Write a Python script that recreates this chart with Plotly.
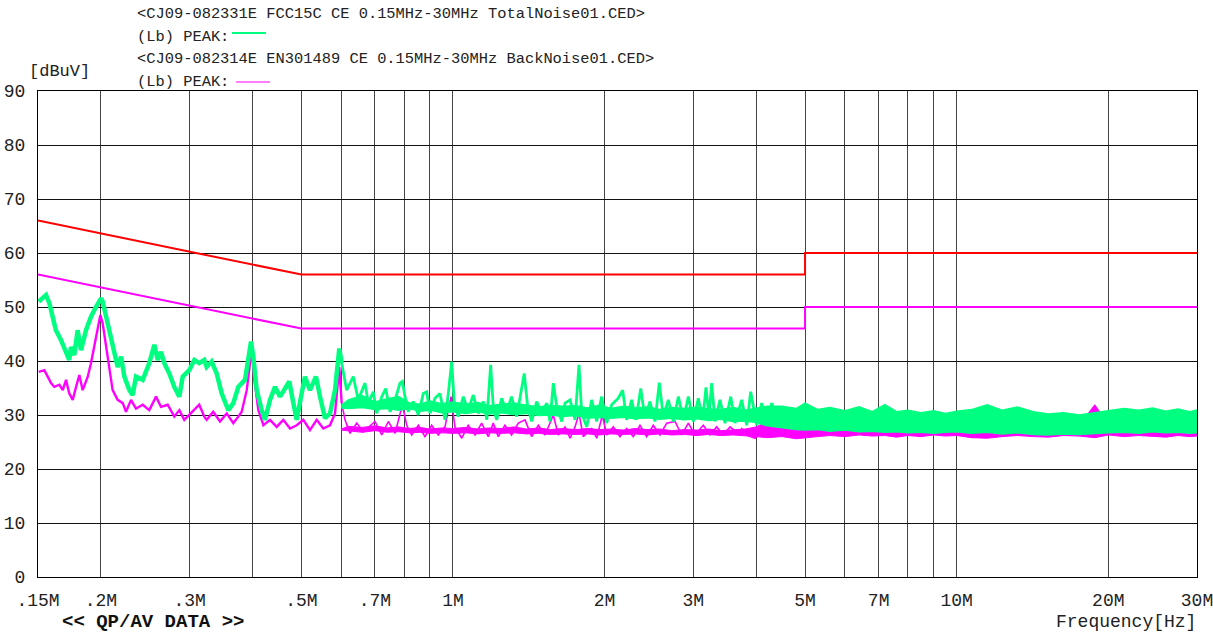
import plotly.graph_objects as go
import math

# ---------------- data ----------------
# limit lines (MHz, dBuV)
lim_qp_f = [0.15, 0.5, 5.0, 5.0, 30.0]
lim_qp_v = [66.0, 56.0, 56.0, 60.0, 60.0]
lim_av_f = [0.15, 0.5, 5.0, 5.0, 30.0]
lim_av_v = [56.0, 46.0, 46.0, 50.0, 50.0]

# Total noise (green) peak trace
tot_f = [0.1505, 0.1556, 0.158, 0.1605, 0.1628, 0.1666, 0.173, 0.1744, 0.1771, 0.1798,
         0.1826, 0.1868, 0.1911, 0.1955, 0.2001, 0.2016, 0.2047, 0.2078, 0.211, 0.2159,
         0.2193, 0.2226, 0.2278, 0.2312, 0.2348, 0.2421, 0.2495, 0.2553, 0.2593, 0.2632,
         0.2672, 0.2734, 0.2797, 0.2862, 0.2907, 0.2996, 0.3065, 0.3135, 0.3208, 0.3243,
         0.3318, 0.3395, 0.3473, 0.358, 0.3663, 0.3748, 0.3864, 0.3923, 0.3972, 0.4014,
         0.4077, 0.4171, 0.4234, 0.4332, 0.4432, 0.4535, 0.464, 0.4732, 0.482, 0.4895,
         0.5007, 0.5084, 0.5201, 0.5346, 0.5445, 0.557, 0.5699, 0.5831, 0.5947, 0.6012,
         0.6151, 0.6339, 0.6486, 0.6688, 0.679, 0.6947, 0.7056, 0.722, 0.7353, 0.7499,
         0.7673, 0.785, 0.7934, 0.803, 0.8153, 0.8341, 0.8535, 0.873, 0.8867, 0.9002,
         0.9209, 0.9423, 0.9641, 0.9788, 0.994, 1.006, 1.024, 1.048, 1.072, 1.097,
         1.123, 1.149, 1.167, 1.188, 1.202, 1.221, 1.249, 1.278, 1.307, 1.338,
         1.365, 1.385, 1.407, 1.433, 1.466, 1.5, 1.535, 1.558, 1.582, 1.607,
         1.644, 1.669, 1.708, 1.747, 1.779, 1.801, 1.843, 1.885, 1.929, 1.973,
         2.019, 2.066, 2.129, 2.172, 2.212, 2.263, 2.308, 2.359, 2.405, 2.461,
         2.518, 2.568, 2.615, 2.676, 2.738, 2.802, 2.866, 2.933, 3.001, 3.069,
         3.131, 3.179, 3.223, 3.263, 3.313, 3.389, 3.468, 3.56, 3.63, 3.743,
         3.83, 3.9, 4.009, 4.102, 4.197, 4.294, 4.426]
tot_v = [51.0, 52.2, 50.7, 48.2, 45.7, 43.9, 40.2, 42.6, 41.1, 45.7,
         42.0, 45.7, 48.2, 50.0, 51.6, 51.0, 48.2, 45.1, 42.6, 38.9,
         40.8, 37.1, 34.6, 33.7, 37.1, 36.5, 39.6, 43.0, 40.2, 41.7,
         39.6, 37.7, 35.2, 33.4, 37.1, 38.3, 40.2, 39.6, 40.2, 38.9,
         39.9, 37.7, 34.0, 30.9, 32.2, 35.2, 36.5, 40.2, 43.6, 40.8,
         34.6, 30.9, 29.1, 32.8, 35.2, 33.4, 34.9, 36.2, 32.2, 29.1,
         34.0, 37.1, 34.6, 37.1, 33.4, 29.4, 30.3, 34.6, 42.3, 39.6,
         34.6, 37.1, 32.8, 35.9, 32.2, 34.3, 30.3, 33.4, 34.9, 30.6,
         32.8, 35.9, 36.2, 33.4, 30.6, 32.5, 30.0, 34.0, 34.3, 30.3,
         33.1, 34.0, 29.1, 34.0, 39.9, 32.2, 29.7, 33.4, 30.9, 33.7,
         30.3, 32.5, 29.1, 39.3, 31.5, 29.1, 33.1, 30.6, 33.4, 29.7,
         34.0, 37.7, 31.5, 28.8, 32.5, 30.3, 32.2, 28.8, 35.9, 31.5,
         28.8, 32.2, 32.8, 29.1, 39.3, 30.3, 27.8, 32.8, 28.8, 33.4,
         28.5, 31.9, 33.1, 34.6, 29.1, 32.8, 29.1, 34.9, 29.4, 32.5,
         28.8, 36.0, 29.7, 32.8, 28.8, 33.4, 29.1, 33.4, 28.8, 33.1,
         29.1, 35.1, 29.7, 35.9, 28.8, 32.8, 28.5, 33.4, 28.5, 32.8,
         28.1, 34.3, 28.1, 32.2, 28.1, 32.2, 28.1]

# Background noise (magenta) peak trace
bg_f = [0.1505, 0.1544, 0.1568, 0.1592, 0.1616, 0.1654, 0.168, 0.1705, 0.173, 0.1758,
        0.1785, 0.1812, 0.184, 0.1883, 0.1911, 0.1941, 0.1971, 0.1995, 0.2016, 0.2047,
        0.2078, 0.211, 0.2159, 0.221, 0.2243, 0.2295, 0.2348, 0.2421, 0.2495, 0.2573,
        0.2632, 0.2714, 0.2797, 0.2862, 0.2928, 0.3042, 0.3135, 0.3208, 0.3243, 0.3342,
        0.3447, 0.3554, 0.3663, 0.3748, 0.3806, 0.3895, 0.3954, 0.3996, 0.4033, 0.4108,
        0.4203, 0.4332, 0.4467, 0.4603, 0.4747, 0.4895, 0.5045, 0.5201, 0.5363, 0.5528,
        0.5699, 0.5831, 0.5947, 0.6012, 0.6104, 0.6245, 0.6439, 0.6636, 0.682, 0.7,
        0.722, 0.7441, 0.7673, 0.7934, 0.8093, 0.8279, 0.8535, 0.8798, 0.9072, 0.935,
        0.9641, 0.9908, 1.009, 1.041, 1.072, 1.106, 1.14, 1.175, 1.202, 1.23,
        1.268, 1.307, 1.348, 1.39, 1.433, 1.477, 1.523, 1.582, 1.618, 1.669,
        1.708, 1.747, 1.779, 1.814, 1.885, 1.929, 1.979, 2.019, 2.081, 2.145,
        2.212, 2.28, 2.351, 2.424, 2.498, 2.576, 2.656, 2.759, 2.844, 2.933,
        3.023, 3.14, 3.237, 3.338, 3.44, 3.548, 3.685, 3.743, 3.83, 3.978,
        4.13, 4.294, 4.426]
bg_v = [38.0, 38.3, 37.1, 35.9, 35.2, 35.6, 34.6, 36.5, 34.0, 32.8,
        35.2, 37.4, 34.6, 37.1, 39.6, 42.6, 45.7, 48.5, 47.0, 42.6,
        38.3, 34.6, 32.8, 32.2, 30.6, 32.8, 31.2, 31.9, 30.9, 33.4,
        31.5, 31.9, 29.7, 30.9, 29.1, 30.6, 31.9, 29.7, 29.1, 30.6,
        28.8, 30.3, 28.5, 29.7, 30.6, 34.6, 39.6, 41.4, 36.5, 30.9,
        28.1, 29.1, 27.8, 29.1, 27.5, 28.1, 29.1, 27.2, 29.1, 27.5,
        28.1, 30.3, 38.9, 32.2, 29.1, 26.6, 28.5, 26.9, 27.8, 28.8,
        26.3, 28.8, 26.6, 31.9, 28.1, 26.3, 28.1, 26.0, 28.1, 26.3,
        27.8, 33.4, 27.8, 25.7, 28.1, 26.3, 28.5, 26.0, 28.5, 26.0,
        28.1, 26.3, 28.5, 29.1, 26.0, 28.1, 26.3, 30.0, 26.3, 27.8,
        25.7, 27.8, 30.3, 26.0, 27.5, 25.7, 30.0, 26.3, 27.8, 26.0,
        27.5, 26.0, 28.1, 26.0, 28.1, 26.3, 28.5, 28.8, 26.3, 28.5,
        26.3, 28.1, 26.3, 27.8, 26.3, 27.8, 26.6, 27.5, 26.3, 25.7,
        27.2, 26.6, 27.5]

# dense noise bands (upper / lower envelope) from 0.6 MHz up
env_f = [0.60, 0.62, 0.66, 0.70, 0.74, 0.78, 0.82, 0.86, 0.90, 0.95, 1.0, 1.06, 1.12, 1.18,
         1.25, 1.32, 1.4, 1.48, 1.56, 1.65, 1.75, 1.85, 1.95, 2.06, 2.18, 2.3, 2.43, 2.57,
         2.72, 2.88, 3.05, 3.22, 3.4, 3.6, 3.8, 4.0, 4.2, 4.5, 4.8, 5.0, 5.3, 5.6, 6.0, 6.4,
         6.8, 7.2, 7.6, 8.0, 8.5, 9.0, 9.5, 10.0, 10.7, 11.5, 12.3, 13.2, 14.2, 15.2, 16.3,
         17.5, 18.8, 20.0, 21.5, 23.0, 24.5, 26.0, 27.5, 29.0, 30.0]
tot_env_hi = [31.8, 32.8, 33.6, 32.4, 33.0, 33.4, 32.2, 32.0, 32.6, 32.1, 32.4, 32.0, 32.3, 31.7,
              32.0, 32.2, 31.8, 31.5, 31.8, 31.6, 31.7, 31.3, 31.8, 31.2, 31.6, 31.3, 31.5, 31.0,
              31.4, 31.2, 31.5, 31.1, 31.0, 31.4, 30.9, 31.2, 31.6, 31.6, 31.2, 32.2, 31.0, 31.4,
              30.8, 31.5, 30.6, 31.9, 30.6, 30.9, 30.4, 30.8, 30.3, 30.7, 31.0, 31.9, 30.9, 31.5,
              30.6, 30.2, 30.4, 30.0, 30.5, 30.8, 31.2, 30.9, 31.3, 30.7, 31.1, 30.6, 30.9]
tot_env_lo = [31.3, 31.2, 31.4, 31.0, 31.2, 30.9, 31.2, 30.7, 30.9, 30.4, 30.6, 30.3, 30.6, 30.2,
              30.4, 30.1, 30.3, 29.9, 30.0, 29.7, 29.9, 29.4, 29.6, 29.4, 29.6, 29.3, 29.5, 29.2,
              29.4, 29.1, 29.3, 29.0, 29.2, 28.8, 28.9, 28.6, 28.0, 27.6, 27.3, 27.2, 27.3, 27.0,
              27.2, 26.9, 27.0, 26.8, 26.9, 26.7, 26.8, 26.6, 26.8, 26.9, 26.6, 26.8, 26.5, 26.7,
              26.4, 26.3, 26.5, 26.4, 26.6, 26.7, 26.8, 26.6, 26.9, 26.7, 26.8, 26.6, 26.7]
bg_env_hi = [27.4, 27.9, 27.7, 28.0, 27.6, 27.8, 27.5, 27.7, 27.4, 27.6, 27.5, 27.7, 27.4, 27.6,
             27.5, 27.8, 27.4, 27.6, 27.3, 27.5, 27.3, 27.5, 27.3, 27.4, 27.2, 27.5, 27.3, 27.4,
             27.1, 27.3, 27.2, 27.4, 27.1, 27.2, 27.4, 27.8, 28.8, 28.5, 28.4, 28.6, 28.3, 28.2,
             28.4, 28.1, 28.3, 28.0, 28.2, 28.0, 28.1, 27.9, 28.2, 28.3, 28.0, 28.2, 27.9, 28.1,
             27.8, 27.7, 28.0, 28.1, 31.9, 28.3, 28.4, 28.6, 28.9, 29.2, 30.5, 30.3, 30.5]
bg_env_lo = [27.2, 27.0, 26.8, 27.1, 26.8, 26.9, 26.7, 26.8, 26.6, 26.7, 26.6, 26.7, 26.5, 26.7,
             26.6, 26.7, 26.5, 26.6, 26.4, 26.5, 26.4, 26.5, 26.3, 26.5, 26.4, 26.5, 26.3, 26.5,
             26.3, 26.4, 26.2, 26.4, 26.2, 26.3, 26.1, 26.0, 25.8, 26.0, 25.6, 25.7, 26.0, 26.2,
             26.0, 26.3, 26.1, 26.2, 25.9, 26.2, 26.0, 26.3, 26.1, 26.2, 25.8, 25.7, 26.0, 26.2,
             26.0, 25.9, 26.2, 26.1, 25.8, 26.3, 26.0, 26.2, 26.1, 25.9, 26.2, 26.0, 26.1]

x_tickvals = [0.15, 0.2, 0.3, 0.4, 0.5, 0.6, 0.7, 0.8, 0.9, 1, 2, 3, 4, 5, 6, 7, 8, 9, 10, 20, 30]
x_ticktext = ['.15M', '.2M', '.3M', '', '.5M', '', '.7M', '', '', '1M', '2M', '3M', '',
              '5M', '', '7M', '', '', '10M', '20M', '30M']
y_tickvals = [0, 10, 20, 30, 40, 50, 60, 70, 80, 90]

header_lines = ["&lt;CJ09-082331E FCC15C CE 0.15MHz-30MHz TotalNoise01.CED&gt;",
                "(Lb) PEAK:",
                "&lt;CJ09-082314E EN301489 CE 0.15MHz-30MHz BackNoise01.CED&gt;",
                "(Lb) PEAK:"]

GREEN = '#00FF80'
MAGENTA = '#FF00FF'
RED = '#FF0000'
MONO = 'Liberation Mono, DejaVu Sans Mono, monospace'

# ---------------- figure ----------------
L, R, T, B = 38, 16, 91, 60
W, H = 1213, 637
PW, PH = W - L - R, H - T - B


def px(x):
    return (x - L) / PW


def py(y):
    return (H - B - y) / PH


fig = go.Figure()

# split index: low-frequency part of the traces is drawn thicker
ks_t = next(i for i, f in enumerate(tot_f) if f > 0.6)
ks_b = next(i for i, f in enumerate(bg_f) if f > 0.6)

# background noise
fig.add_trace(go.Scatter(x=env_f + env_f[::-1], y=bg_env_hi + bg_env_lo[::-1],
                         fill='toself', fillcolor=MAGENTA, mode='lines',
                         line=dict(color=MAGENTA, width=1), hoverinfo='skip'))
fig.add_trace(go.Scatter(x=bg_f[:ks_b + 1], y=bg_v[:ks_b + 1], mode='lines',
                         line=dict(color=MAGENTA, width=2.4)))
fig.add_trace(go.Scatter(x=bg_f[ks_b:], y=bg_v[ks_b:], mode='lines',
                         line=dict(color=MAGENTA, width=1.6)))

# total noise
fig.add_trace(go.Scatter(x=env_f + env_f[::-1], y=tot_env_hi + tot_env_lo[::-1],
                         fill='toself', fillcolor=GREEN, mode='lines',
                         line=dict(color=GREEN, width=1.5), hoverinfo='skip'))
fig.add_trace(go.Scatter(x=tot_f[:ks_t + 1], y=tot_v[:ks_t + 1], mode='lines',
                         line=dict(color=GREEN, width=4.5)))
fig.add_trace(go.Scatter(x=tot_f[ks_t:], y=tot_v[ks_t:], mode='lines',
                         line=dict(color=GREEN, width=2.8)))

# limit lines
fig.add_trace(go.Scatter(x=lim_qp_f, y=lim_qp_v, mode='lines', line=dict(color=RED, width=2)))
fig.add_trace(go.Scatter(x=lim_av_f, y=lim_av_v, mode='lines', line=dict(color=MAGENTA, width=2)))

fig.update_layout(
    width=W, height=H,
    margin=dict(l=L, r=R, t=T, b=B, pad=0, autoexpand=False),
    paper_bgcolor='white', plot_bgcolor='white',
    showlegend=False,
    font=dict(family=MONO, color='#111'),
)

fig.update_xaxes(
    type='log', range=[math.log10(0.15), math.log10(30.0) + 1e-6],
    tickmode='array', tickvals=x_tickvals, ticktext=x_ticktext,
    showgrid=True, gridcolor='#444', gridwidth=1,
    showline=True, linecolor='black', linewidth=1, mirror=True,
    ticks='', tickfont=dict(family=MONO, size=18, color='#222'),
    ticklabelstandoff=6, ticklabeloverflow='allow', zeroline=False,
    automargin=False,
)
fig.update_yaxes(
    range=[0, 90], tickmode='array', tickvals=y_tickvals,
    showgrid=True, gridcolor='#111', gridwidth=1,
    showline=True, linecolor='black', linewidth=1, mirror=True,
    ticks='', tickfont=dict(family=MONO, size=18, color='#222'),
    ticklabelstandoff=8, zeroline=False, automargin=False,
)

ann = []
for txt, yy in zip(header_lines, [14, 36.5, 59, 81.5]):
    ann.append(dict(x=px(135), y=py(yy), xref='paper', yref='paper', text=txt,
                    showarrow=False, xanchor='left', yanchor='middle',
                    font=dict(family=MONO, size=15.4, color='#222')))
ann.append(dict(x=px(27), y=py(72), xref='paper', yref='paper', text='[dBuV]',
                showarrow=False, xanchor='left', yanchor='middle',
                font=dict(family=MONO, size=17, color='#222')))
ann.append(dict(x=px(60), y=py(622), xref='paper', yref='paper',
                text='<b>&lt;&lt; QP/AV DATA &gt;&gt;</b>',
                showarrow=False, xanchor='left', yanchor='middle',
                font=dict(family=MONO, size=19, color='#111')))
ann.append(dict(x=px(1198), y=py(622), xref='paper', yref='paper', text='Frequency[Hz]',
                showarrow=False, xanchor='right', yanchor='middle',
                font=dict(family=MONO, size=18, color='#222')))
fig.update_layout(annotations=ann)

# legend sample lines next to "(Lb) PEAK:"
fig.add_shape(type='line', xref='paper', yref='paper', x0=px(232), x1=px(266),
              y0=py(33), y1=py(33), line=dict(color=GREEN, width=2))
fig.add_shape(type='line', xref='paper', yref='paper', x0=px(236), x1=px(270),
              y0=py(82), y1=py(82), line=dict(color=MAGENTA, width=1.2))

fig.write_html("out.html", config={'displayModeBar': False},
               post_script="document.body.style.margin='0';")
